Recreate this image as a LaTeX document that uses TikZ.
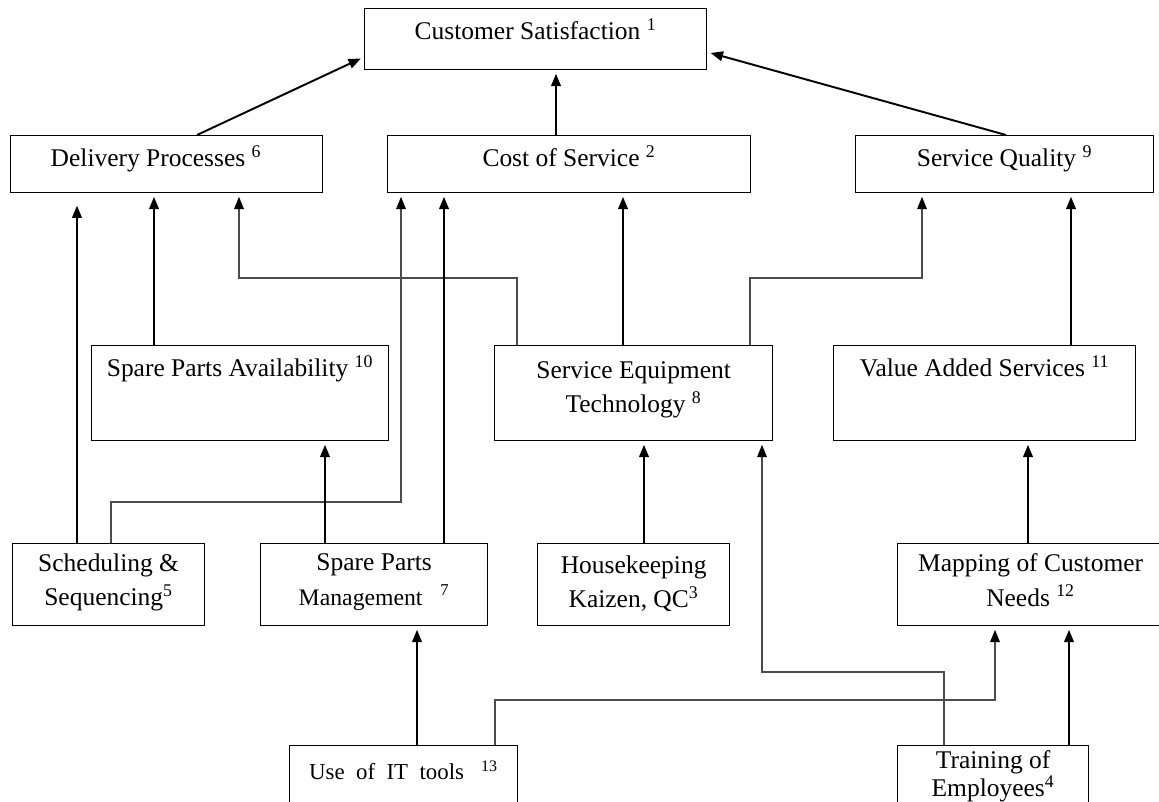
\documentclass[tikz,border=0pt]{standalone}
\usepackage{fontspec}
\setmainfont{Liberation Serif}
\usetikzlibrary{arrows.meta}

\tikzset{
  box/.style={draw, line width=0.75pt, anchor=north west, inner sep=0pt},
  txt/.style={anchor=north, align=center, inner xsep=0pt, inner ysep=6pt,
    font=\fontsize{14.5}{19.5}\selectfont},
  link/.style={-{Triangle[length=7pt,width=5.5pt]}, line width=1.1pt, shorten >=2pt},
  elbow/.style={-{Triangle[length=7pt,width=5.5pt,color=black]}, line width=0.7pt,
    draw=black!70, shorten >=2pt}
}

\begin{document}
\begin{tikzpicture}[x=0.02cm, y=-0.02cm]
  \useasboundingbox (0,0) rectangle (1159,801);

% boxes
\node[box, minimum width=6.84cm, minimum height=1.22cm] (cs) at (364,8) {};
\node[box, minimum width=6.24cm, minimum height=1.14cm] (del) at (10,135) {};
\node[box, minimum width=7.26cm, minimum height=1.14cm] (cost) at (387,135) {};
\node[box, minimum width=5.96cm, minimum height=1.14cm] (sq) at (855,135) {};
\node[box, minimum width=5.94cm, minimum height=1.90cm] (spa) at (91,345) {};
\node[box, minimum width=5.56cm, minimum height=1.90cm] (set) at (494,345) {};
\node[box, minimum width=6.04cm, minimum height=1.90cm] (vas) at (833,345) {};
\node[box, minimum width=3.84cm, minimum height=1.64cm] (sch) at (12,543) {};
\node[box, minimum width=4.54cm, minimum height=1.64cm] (spm) at (260,543) {};
\node[box, minimum width=3.84cm, minimum height=1.64cm] (hk) at (537,543) {};
\node[box, minimum width=5.32cm, minimum height=1.64cm] (map) at (897,543) {};
\node[box, minimum width=4.56cm, minimum height=1.80cm] (it) at (289,745) {};
\node[box, minimum width=3.82cm, minimum height=1.80cm] (tr) at (897,745) {};

% texts
\node[txt] (cs-t) at (cs.north) {Customer Satisfaction \textsuperscript{1}};
\node[txt] (del-t) at ([xshift=-6pt]del.north) {Delivery Processes \textsuperscript{6}};
\node[txt] (cost-t) at (cost.north) {Cost of Service \textsuperscript{2}};
\node[txt] (sq-t) at (sq.north) {Service Quality \textsuperscript{9}};
\node[txt] (spa-t) at (spa.north) {Spare Parts Availability \textsuperscript{10}};
\node[txt, yshift=-3pt] (set-t) at (set.north) {Service Equipment\\Technology \textsuperscript{8}};
\node[txt] (vas-t) at (vas.north) {Value Added Services \textsuperscript{11}};
\node[txt] (sch-t) at (sch.north) {Scheduling \&\\Sequencing\textsuperscript{5}};
\node[txt] (spm-t) at (spm.north) {Spare Parts\\{\fontsize{13.5}{15}\selectfont Management\ \ \ \textsuperscript{7}}};
\node[txt, yshift=-1pt] (hk-t) at (hk.north) {Housekeeping\\Kaizen, QC\textsuperscript{3}};
\node[txt] (map-t) at (map.north) {Mapping of Customer\\Needs \textsuperscript{12}};
\node[txt, yshift=-3pt, font=\fontsize{13}{15}\selectfont] (it-t) at (it.north) {Use\ \ of\ \ IT\ \ tools\ \ \ \textsuperscript{13}};
\node[txt, inner ysep=3pt, font=\fontsize{14.5}{16}\selectfont] (tr-t) at (tr.north) {Training of\\Employees\textsuperscript{4}};

% links to customer satisfaction
\draw[link] (197,0 |- del.north) -- (cs.west |- 0,57);
\draw[link] (556,0 |- cost.north) -- (556,0 |- cs.south);
\draw[link] (1006,0 |- sq.north) -- (cs.east |- 0,52);

% second level
\draw[link, shorten >=7pt] (77,0 |- sch.north) -- (77,0 |- del.south);
\draw[link] (154,0 |- spa.north) -- (154,0 |- del.south);
\draw[elbow] (517,0 |- set.north) |- (239,278) -- (239,0 |- del.south);
\draw[elbow] (111,0 |- sch.north) |- (401,502) -- (401,0 |- cost.south);
\draw[link] (444,0 |- spm.north) -- (444,0 |- cost.south);
\draw[link] (623,0 |- set.north) -- (623,0 |- cost.south);
\draw[elbow] (750,0 |- set.north) |- (922,278) -- (922,0 |- sq.south);
\draw[link] (1071,0 |- vas.north) -- (1071,0 |- sq.south);

% third level
\draw[link] (325,0 |- spm.north) -- (325,0 |- spa.south);
\draw[link] (644,0 |- hk.north) -- (644,0 |- set.south);
\draw[elbow] (944,0 |- tr.north) |- (762,672) -- (762,0 |- set.south);
\draw[link] (1028,0 |- map.north) -- (1028,0 |- vas.south);

% bottom
\draw[link] (417,0 |- it.north) -- (417,0 |- spm.south);
\draw[elbow] (495,0 |- it.north) |- (995,700) -- (995,0 |- map.south);
\draw[link] (1069,0 |- tr.north) -- (1069,0 |- map.south);

\end{tikzpicture}
\end{document}
